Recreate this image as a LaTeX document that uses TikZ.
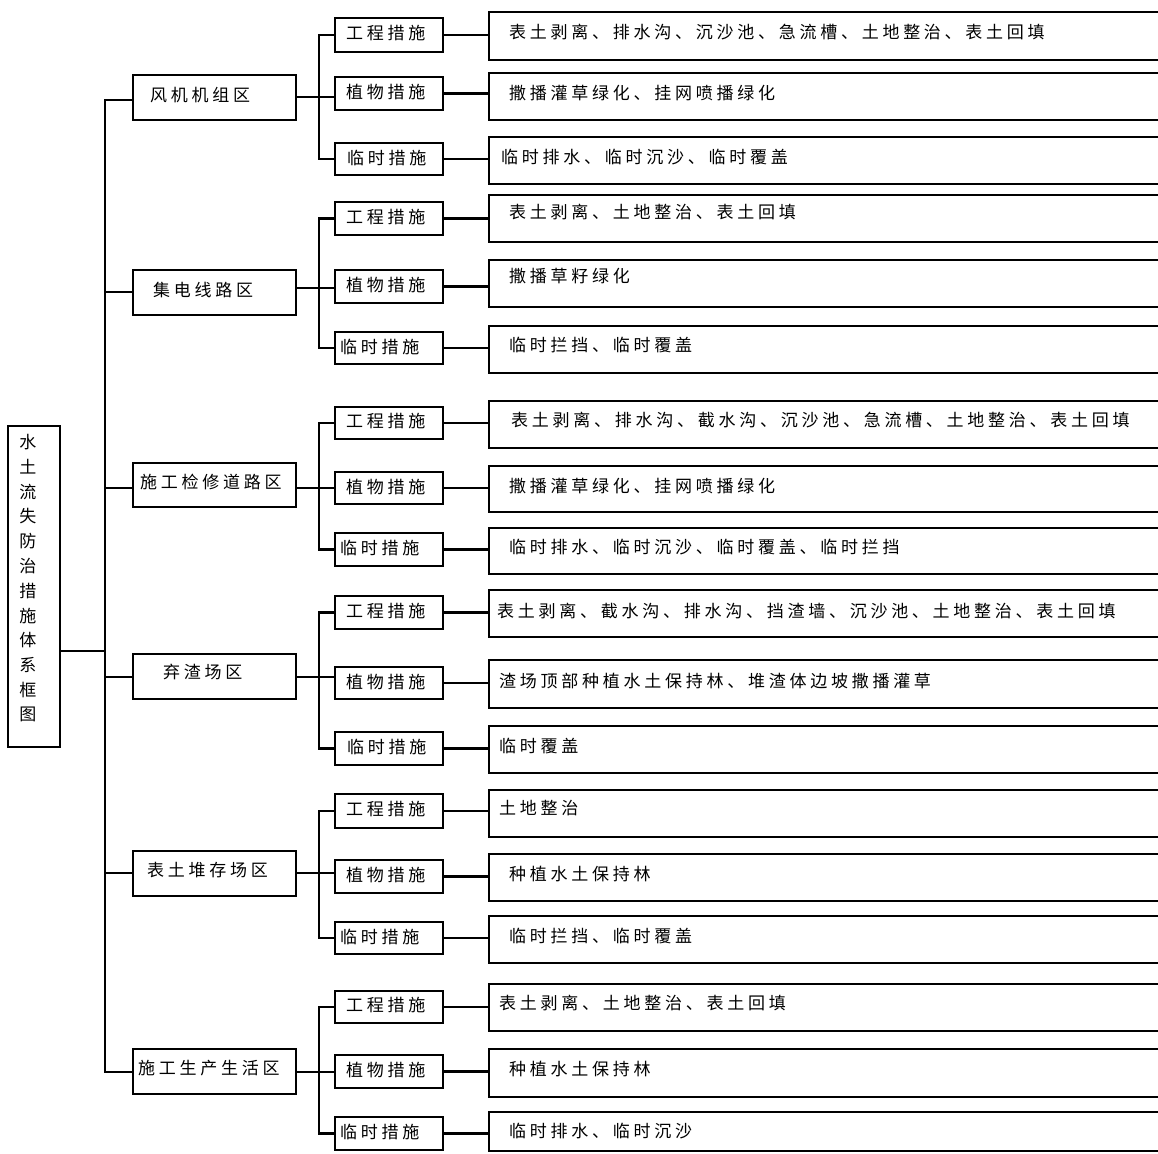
\documentclass[tikz,border=0pt]{standalone}
\usepackage{fontspec}
\newfontfamily\cjk[LetterSpace=22]{Noto Sans CJK SC}
\newcommand\mkbox[5]{\node[box,minimum width={(#4)-(#2)},minimum height={(#5)-(#3)}] (#1) at ({((#2)+(#4))/2},{((#3)+(#5))/2}) {};}
\begin{document}
\begin{tikzpicture}[x=1pt,y=-1pt,
  box/.style={draw,line width=2.2pt,inner sep=0pt},
  lbl/.style={inner sep=0pt,anchor=west,font=\cjk\fontsize{17}{20}\selectfont},
  rootch/.style={inner sep=0pt,font=\cjk\fontsize{17}{20}\selectfont},
  conn/.style={line width=2.2pt}]
\clip (0,0) rectangle (1158,1153);
\fill[white] (0,0) rectangle (1158,1153);
% root
\mkbox{root}{8}{426}{60}{747}
\foreach \c [count=\i] in {水,土,流,失,防,治,措,施,体,系,框,图} {
  \node[rootch] (r\i) at (28,{442+(\i-1)*24.8}) {\c};
}
% level 1
\mkbox{g1}{133}{75}{296}{120}
\mkbox{g2}{133}{270}{296}{315}
\mkbox{g3}{133}{463}{296}{507}
\mkbox{g4}{133}{654}{296}{699}
\mkbox{g5}{133}{851}{296}{896}
\mkbox{g6}{133}{1049}{296}{1094}
\node[lbl] (g1t) at (150,95) {风机机组区};
\node[lbl] (g2t) at (153,290) {集电线路区};
\node[lbl] (g3t) at (140,482) {施工检修道路区};
\node[lbl] (g4t) at (163,672) {弃渣场区};
\node[lbl] (g5t) at (147,870) {表土堆存场区};
\node[lbl] (g6t) at (138,1068) {施工生产生活区};
% level 2
\mkbox{g1a}{335}{18}{443}{52}
\mkbox{g1b}{335}{77}{443}{110}
\mkbox{g1c}{335}{143}{443}{175}
\mkbox{g2a}{335}{202}{443}{235}
\mkbox{g2b}{335}{270}{443}{303}
\mkbox{g2c}{335}{332}{443}{364}
\mkbox{g3a}{335}{407}{443}{439}
\mkbox{g3b}{335}{472}{443}{504}
\mkbox{g3c}{335}{533}{443}{566}
\mkbox{g4a}{335}{596}{443}{629}
\mkbox{g4b}{335}{667}{443}{699}
\mkbox{g4c}{335}{732}{443}{765}
\mkbox{g5a}{335}{794}{443}{828}
\mkbox{g5b}{335}{860}{443}{893}
\mkbox{g5c}{335}{922}{443}{954}
\mkbox{g6a}{335}{991}{443}{1023}
\mkbox{g6b}{335}{1055}{443}{1088}
\mkbox{g6c}{335}{1117}{443}{1150}
\node[lbl] (g1at) at (346,33.5) {工程措施};
\node[lbl] (g1bt) at (346,92) {植物措施};
\node[lbl] (g1ct) at (347,157.5) {临时措施};
\node[lbl] (g2at) at (346,217) {工程措施};
\node[lbl] (g2bt) at (346,285) {植物措施};
\node[lbl] (g2ct) at (340,346.5) {临时措施};
\node[lbl] (g3at) at (346,421.5) {工程措施};
\node[lbl] (g3bt) at (346,486.5) {植物措施};
\node[lbl] (g3ct) at (340,548) {临时措施};
\node[lbl] (g4at) at (346,611) {工程措施};
\node[lbl] (g4bt) at (346,681.5) {植物措施};
\node[lbl] (g4ct) at (347,747) {临时措施};
\node[lbl] (g5at) at (346,809.5) {工程措施};
\node[lbl] (g5bt) at (346,875) {植物措施};
\node[lbl] (g5ct) at (340,936.5) {临时措施};
\node[lbl] (g6at) at (346,1005.5) {工程措施};
\node[lbl] (g6bt) at (346,1070) {植物措施};
\node[lbl] (g6ct) at (340,1132) {临时措施};
% level 3
\mkbox{g1a3}{489}{12}{1175}{60}
\mkbox{g1b3}{489}{73}{1175}{120}
\mkbox{g1c3}{489}{137}{1175}{184}
\mkbox{g2a3}{489}{195}{1175}{242}
\mkbox{g2b3}{489}{260}{1175}{307}
\mkbox{g2c3}{489}{326}{1175}{373}
\mkbox{g3a3}{489}{401}{1175}{448}
\mkbox{g3b3}{489}{466}{1175}{512}
\mkbox{g3c3}{489}{528}{1175}{574}
\mkbox{g4a3}{489}{590}{1175}{637}
\mkbox{g4b3}{489}{660}{1175}{708}
\mkbox{g4c3}{489}{726}{1175}{773}
\mkbox{g5a3}{489}{790}{1175}{837}
\mkbox{g5b3}{489}{854}{1175}{901}
\mkbox{g5c3}{489}{916}{1175}{963}
\mkbox{g6a3}{489}{984}{1175}{1031}
\mkbox{g6b3}{489}{1049}{1175}{1097}
\mkbox{g6c3}{489}{1112}{1175}{1151}
\node[lbl] (g1a3t) at (509,32) {表土剥离、排水沟、沉沙池、急流槽、土地整治、表土回填};
\node[lbl] (g1b3t) at (509,93) {撒播灌草绿化、挂网喷播绿化};
\node[lbl] (g1c3t) at (501,157) {临时排水、临时沉沙、临时覆盖};
\node[lbl] (g2a3t) at (509,212) {表土剥离、土地整治、表土回填};
\node[lbl] (g2b3t) at (509,276) {撒播草籽绿化};
\node[lbl] (g2c3t) at (509,345) {临时拦挡、临时覆盖};
\node[lbl] (g3a3t) at (511,420) {表土剥离、排水沟、截水沟、沉沙池、急流槽、土地整治、表土回填};
\node[lbl] (g3b3t) at (509,486) {撒播灌草绿化、挂网喷播绿化};
\node[lbl] (g3c3t) at (509,547) {临时排水、临时沉沙、临时覆盖、临时拦挡};
\node[lbl] (g4a3t) at (497,611) {表土剥离、截水沟、排水沟、挡渣墙、沉沙池、土地整治、表土回填};
\node[lbl] (g4b3t) at (499,681) {渣场顶部种植水土保持林、堆渣体边坡撒播灌草};
\node[lbl] (g4c3t) at (499,746) {临时覆盖};
\node[lbl] (g5a3t) at (499,808) {土地整治};
\node[lbl] (g5b3t) at (509,874) {种植水土保持林};
\node[lbl] (g5c3t) at (509,936) {临时拦挡、临时覆盖};
\node[lbl] (g6a3t) at (499,1003) {表土剥离、土地整治、表土回填};
\node[lbl] (g6b3t) at (509,1069) {种植水土保持林};
\node[lbl] (g6c3t) at (509,1131) {临时排水、临时沉沙};
% trunk junctions (x = 105) and group junctions (x = 319)
\coordinate (rootj) at (105,651);
\coordinate (t1) at (105,100);
\coordinate (t2) at (105,292);
\coordinate (t3) at (105,488);
\coordinate (t4) at (105,677);
\coordinate (t5) at (105,873);
\coordinate (t6) at (105,1072);
\coordinate (j1) at (319,97);
\coordinate (j2) at (319,288);
\coordinate (j3) at (319,488);
\coordinate (j4) at (319,677);
\coordinate (j5) at (319,873);
\coordinate (j6) at (319,1072);
\draw[conn] (t1 -| g1.west) -- (t1) -- (t6) -- (t6 -| g6.west);
\draw[conn] (rootj -| root.east) -- (rootj);
\foreach \i in {2,3,4,5} {
  \draw[conn] (t\i) -- (t\i -| g\i.west);
}
% group buses
\foreach \i in {1,...,6} {
  \draw[conn] (j\i -| g\i.east) -- (j\i -| g\i b.west);
  \draw[conn] (g\i a.west) -- (g\i a.west -| j\i) -- (g\i c.west -| j\i) -- (g\i c.west);
  \foreach \s in {a,b,c} {
    \draw[conn] (g\i\s.east) -- (g\i\s.east -| g\i\s3.west);
  }
}
\end{tikzpicture}
\end{document}
